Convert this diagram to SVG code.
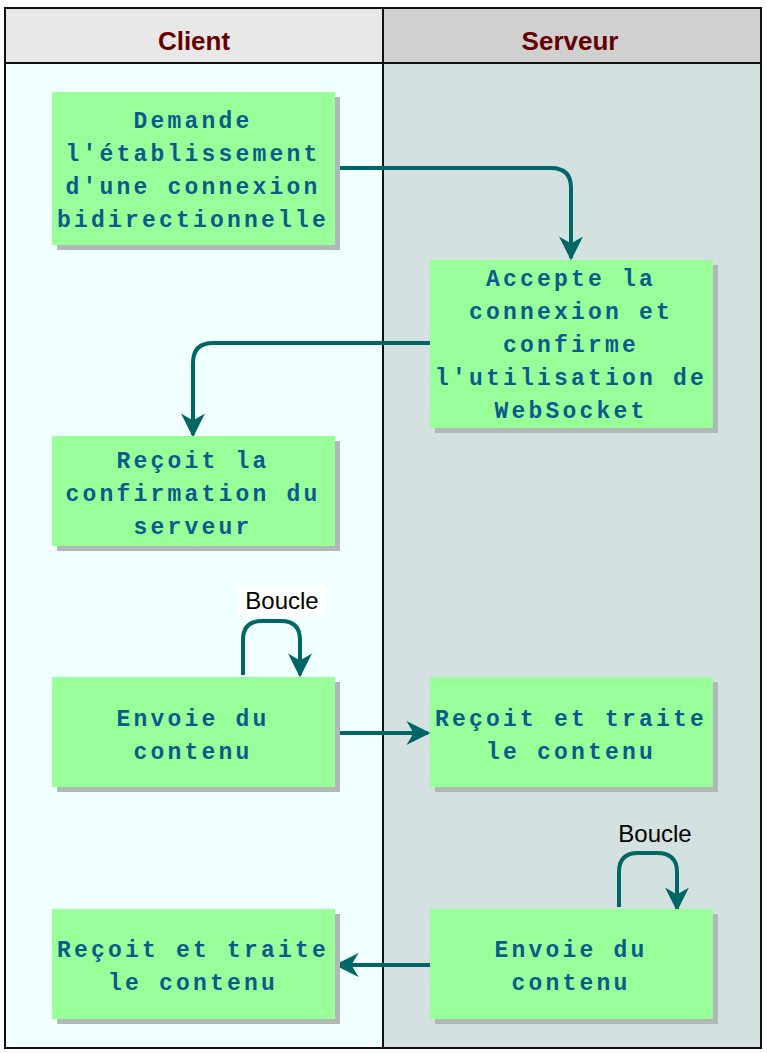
<svg xmlns="http://www.w3.org/2000/svg" width="767" height="1053" viewBox="0 0 767 1053">
<style>
.n{fill:#99ff99}.sh{fill:#b0b8b8}
.t{font-family:"Liberation Mono",monospace;font-weight:bold;font-size:23px;letter-spacing:3.2px;fill:#0b5a8c;text-anchor:middle}
.h{font-family:"Liberation Sans",sans-serif;font-weight:bold;font-size:26px;fill:#660000;text-anchor:middle}
.c{fill:none;stroke:#006666;stroke-width:4}
.l{font-family:"Liberation Sans",sans-serif;font-size:24px;fill:#000;text-anchor:middle}
</style>
<defs><marker id="a" markerWidth="8" markerHeight="8" refX="6" refY="4" orient="auto" markerUnits="userSpaceOnUse" viewBox="0 0 8 8"><path d="M0,0 L8,4 L0,8 Z" fill="#006666"/></marker>
<marker id="ar" viewBox="0 0 10 10" refX="9" refY="5" markerWidth="24" markerHeight="24" markerUnits="userSpaceOnUse" orient="auto"><path d="M0,0 L10,5 L0,10 L3,5 Z" fill="#006666"/></marker></defs>
<g id="lanes">
<rect x="5" y="8" width="378" height="1040" fill="#f0ffff"/>
<rect x="383" y="8" width="378" height="1040" fill="#d3e1e1"/>
<rect x="5" y="8" width="378" height="55" fill="#e8e8e8"/>
<rect x="383" y="8" width="378" height="55" fill="#d0d0d0"/>
<path d="M5,63H761M383,8V1048" stroke="#111" stroke-width="2" fill="none"/>
<rect x="5" y="8" width="756" height="1040" fill="none" stroke="#111" stroke-width="2"/>
<text class="h" x="194" y="50">Client</text>
<text class="h" x="570" y="50">Serveur</text>
</g>
<g id="connectors">
<path class="c" marker-end="url(#ar)" d="M335,168H551Q571,168 571,188V258"/>
<path class="c" marker-end="url(#ar)" d="M430,343H213Q193,343 193,363V435"/>
<path class="c" marker-end="url(#ar)" d="M335,733H428"/>
<path class="c" marker-end="url(#ar)" d="M430,965H337"/>
<path class="c" marker-end="url(#ar)" d="M243,675V640Q243,621 262,621H281Q300,621 300,640V675"/>
<path class="c" marker-end="url(#ar)" d="M619,907V872Q619,853 638,853H657Q677,853 677,872V909"/>
<rect x="238" y="586" width="88" height="30" fill="#fff"/>
<text class="l" x="282" y="609">Boucle</text>
<text class="l" x="655" y="842">Boucle</text>
</g>
<g id="n1"><rect class="sh" x="57" y="97" width="283" height="153"/><rect class="n" x="52" y="92" width="283" height="153"/>
<text class="t" x="193"><tspan x="193" y="128">Demande</tspan><tspan x="193" y="161">l'établissement</tspan><tspan x="193" y="194">d'une connexion</tspan><tspan x="193" y="227">bidirectionnelle</tspan></text></g>
<g id="n2"><rect class="sh" x="435" y="265" width="283" height="168"/><rect class="n" x="430" y="260" width="283" height="168"/>
<text class="t"><tspan x="571" y="286">Accepte la</tspan><tspan x="571" y="319">connexion et</tspan><tspan x="571" y="352">confirme</tspan><tspan x="571" y="385">l'utilisation de</tspan><tspan x="571" y="418">WebSocket</tspan></text></g>
<g id="n3"><rect class="sh" x="57" y="441" width="283" height="110"/><rect class="n" x="52" y="436" width="283" height="110"/>
<text class="t"><tspan x="193" y="468">Reçoit la</tspan><tspan x="193" y="501">confirmation du</tspan><tspan x="193" y="534">serveur</tspan></text></g>
<g id="n4"><rect class="sh" x="57" y="682" width="283" height="110"/><rect class="n" x="52" y="677" width="283" height="110"/>
<text class="t"><tspan x="193" y="726">Envoie du</tspan><tspan x="193" y="759">contenu</tspan></text></g>
<g id="n5"><rect class="sh" x="435" y="682" width="283" height="110"/><rect class="n" x="430" y="677" width="283" height="110"/>
<text class="t"><tspan x="571" y="726">Reçoit et traite</tspan><tspan x="571" y="759">le contenu</tspan></text></g>
<g id="n6"><rect class="sh" x="57" y="914" width="283" height="110"/><rect class="n" x="52" y="909" width="283" height="110"/>
<text class="t"><tspan x="193" y="957">Reçoit et traite</tspan><tspan x="193" y="990">le contenu</tspan></text></g>
<g id="n7"><rect class="sh" x="435" y="914" width="283" height="110"/><rect class="n" x="430" y="909" width="283" height="110"/>
<text class="t"><tspan x="571" y="957">Envoie du</tspan><tspan x="571" y="990">contenu</tspan></text></g>
</svg>
